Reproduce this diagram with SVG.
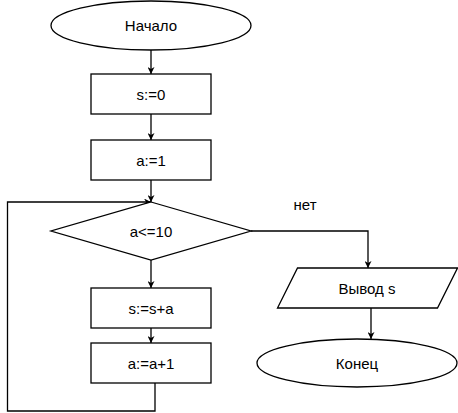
<svg xmlns="http://www.w3.org/2000/svg" width="458" height="413" viewBox="0 0 458 413">
<style>
.s{fill:#fff;stroke:#000;stroke-width:1.3}
.c{fill:none;stroke:#000;stroke-width:1.3}
text{font-family:"Liberation Sans",Arial,sans-serif;font-size:15px;fill:#000;text-anchor:middle}
</style>
<defs>
<marker id="a" viewBox="0 0 10 10" refX="10" refY="5" markerWidth="7" markerHeight="7" markerUnits="userSpaceOnUse" orient="auto">
<path d="M0,0 L10,5 L0,10 L3,5 Z" fill="#000"/>
</marker>
</defs>
<rect width="458" height="413" fill="#fff"/>
<g id="connectors">
<path class="c" d="M151,50 V74" marker-end="url(#a)"/>
<path class="c" d="M151,114 V140" marker-end="url(#a)"/>
<path class="c" d="M151,180 V202" marker-end="url(#a)"/>
<path class="c" d="M151,260 V288" marker-end="url(#a)"/>
<path class="c" d="M151,328 V343" marker-end="url(#a)"/>
<path class="c" d="M155,383 V411 H7.5 V202 H151" marker-end="url(#a)"/>
<path class="c" d="M251,231 H368 V268" marker-end="url(#a)"/>
<path class="c" d="M371,308 V339" marker-end="url(#a)"/>
<text x="305" y="210">нет</text>
</g>
<g id="start">
<ellipse class="s" cx="151" cy="25.5" rx="100" ry="24.5"/>
<text x="151" y="31">Начало</text>
</g>
<g id="s0">
<rect class="s" x="91" y="74" width="120" height="40"/>
<text x="151" y="99.5">s:=0</text>
</g>
<g id="a1">
<rect class="s" x="91" y="140" width="120" height="40"/>
<text x="151" y="165.5">a:=1</text>
</g>
<g id="cond">
<polygon class="s" points="151,202 251,231 151,260 51,231"/>
<text x="151" y="236.5">a&lt;=10</text>
</g>
<g id="ssa">
<rect class="s" x="91" y="288" width="120" height="40"/>
<text x="151" y="313.5">s:=s+a</text>
</g>
<g id="aa1">
<rect class="s" x="91" y="343" width="120" height="40"/>
<text x="151" y="368.5">a:=a+1</text>
</g>
<g id="out">
<polygon class="s" points="297.5,268 457.5,268 437.5,308 277.5,308"/>
<text x="367" y="293.5">Вывод s</text>
</g>
<g id="end">
<ellipse class="s" cx="357" cy="363" rx="100" ry="24"/>
<text x="357" y="368.5">Конец</text>
</g>
</svg>
